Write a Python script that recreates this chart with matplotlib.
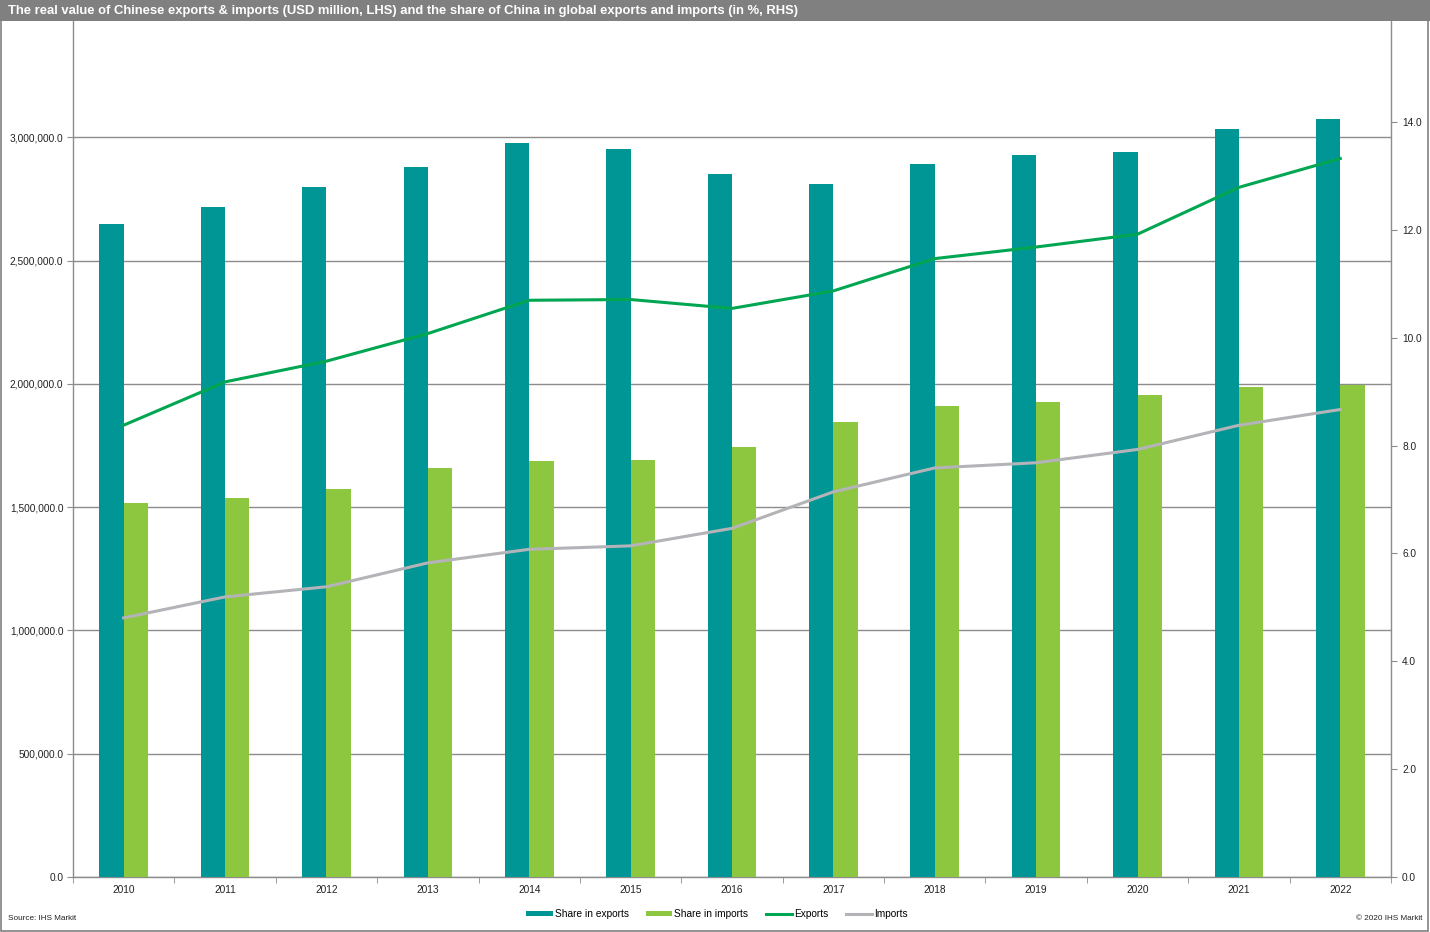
import matplotlib
matplotlib.use("Agg")
import matplotlib.pyplot as plt
from matplotlib.patches import Rectangle, Patch
from matplotlib.lines import Line2D
from matplotlib.ticker import FuncFormatter, FixedLocator
import numpy as np

plt.rcParams['font.family'] = ['Liberation Sans', 'DejaVu Sans']

years = ['2010', '2011', '2012', '2013', '2014', '2015', '2016',
         '2017', '2018', '2019', '2020', '2021', '2022']
share_exports = [12.11, 12.42, 12.79, 13.16, 13.61, 13.50, 13.03,
                 12.85, 13.22, 13.39, 13.44, 13.87, 14.05]
share_imports = [6.94, 7.02, 7.19, 7.59, 7.71, 7.74, 7.97,
                 8.44, 8.74, 8.80, 8.94, 9.08, 9.13]
exports = [1832400, 2008000, 2092000, 2204000, 2339000, 2342000, 2306000,
           2377000, 2508000, 2555000, 2607000, 2797000, 2914000]
imports = [1051000, 1136000, 1177000, 1274000, 1329000, 1343000, 1414000,
           1562000, 1659000, 1680000, 1734000, 1832000, 1896000]
left_ticks = [0, 500000, 1000000, 1500000, 2000000, 2500000, 3000000]
right_ticks = [0, 2, 4, 6, 8, 10, 12, 14]

title = ("The real value of Chinese exports & imports (USD million, LHS) and the share "
         "of China in global exports and imports (in %, RHS)")

C_TEAL = '#009696'
C_LIME = '#8DC63F'
C_EXP = '#00A651'
C_IMP = '#B4B4B8'
C_GRID = '#8C8C8C'
C_AX = '#8C8C8C'
FS = 7.3

W, H = 1430, 932
fig = plt.figure(figsize=(W / 100, H / 100), dpi=100)

rect = [73 / W, 1 - 877 / H, (1391 - 73) / W, (877 - 14) / H]
ax = fig.add_axes(rect)
x = np.arange(len(years))

# grid / left axis
ax.set_xlim(-0.5, len(years) - 0.5)
ax.set_ylim(0, 3500000)
ax.yaxis.set_major_locator(FixedLocator(left_ticks))
ax.yaxis.set_major_formatter(FuncFormatter(lambda v, p: f"{v:,.1f}"))
ax.grid(axis='y', color=C_GRID, linewidth=1.0)
ax.set_axisbelow(True)
ax.set_xticks(x)
ax.set_xticklabels(years)
ax.set_xticks(np.arange(-0.5, len(years) + 0.5, 1), minor=True)
ax.tick_params(axis='x', which='major', length=0, labelsize=FS, pad=6, colors='#222222')
ax.tick_params(axis='x', which='minor', length=4, color=C_AX, direction='out')
ax.tick_params(axis='y', length=4, color=C_AX, labelsize=FS, labelcolor='#222222', pad=3)
for s in ['top', 'right']:
    ax.spines[s].set_visible(False)
for s in ['left', 'bottom']:
    ax.spines[s].set_color(C_AX)
    ax.spines[s].set_linewidth(1.0)

# bars on right axis
axb = ax.twinx()
axb.set_ylim(0, 16)
axb.yaxis.set_major_locator(FixedLocator(right_ticks))
axb.yaxis.set_major_formatter(FuncFormatter(lambda v, p: f"{v:.1f}"))
axb.tick_params(axis='y', length=4, color=C_AX, labelsize=FS, labelcolor='#222222', pad=4)
bw = 0.24
axb.bar(x - bw / 2, share_exports, width=bw, color=C_TEAL, label='Share in exports')
axb.bar(x + bw / 2, share_imports, width=bw, color=C_LIME, label='Share in imports')
for s in ['top', 'left', 'bottom']:
    axb.spines[s].set_visible(False)
axb.spines['right'].set_color(C_AX)
axb.spines['right'].set_linewidth(1.0)

# lines on left scale, drawn on top
axl = fig.add_axes(rect, sharex=ax, sharey=ax)
axl.patch.set_visible(False)
axl.axis('off')
axl.plot(x, exports, color=C_EXP, linewidth=2.2, solid_joinstyle='miter')
axl.plot(x, imports, color=C_IMP, linewidth=2.2, solid_joinstyle='miter')

# title bar
fig.patches.append(Rectangle((0, 1 - 21 / H), 1, 21 / H, transform=fig.transFigure,
                             facecolor='#808080', edgecolor='none', zorder=10))
fig.text(8 / W, 1 - 11 / H, title, color='white', fontsize=9.4, fontweight='bold',
         va='center', ha='left', zorder=11)

# border
fig.patches.append(Rectangle((0.5 / W, 1.5 / H), (W - 3) / W, (H - 3) / H,
                             transform=fig.transFigure, facecolor='none',
                             edgecolor='#808080', linewidth=1.2, zorder=12))

# legend
handles = [Patch(facecolor=C_TEAL, edgecolor='none'),
           Patch(facecolor=C_LIME, edgecolor='none'),
           Line2D([], [], color=C_EXP, linewidth=2.2),
           Line2D([], [], color=C_IMP, linewidth=2.2)]
labels = ['Share in exports', 'Share in imports', 'Exports', 'Imports']
fig.legend(handles, labels, loc='center', bbox_to_anchor=(717 / W, 1 - 914 / H),
           ncol=4, frameon=False, fontsize=FS, handlelength=2.6, handleheight=0.5,
           handletextpad=0.2, columnspacing=1.7)

fig.text(8 / W, 1 - 918 / H, 'Source: IHS Markit', fontsize=5.9, va='center', ha='left',
         color='#222222')
fig.text(1422 / W, 1 - 918 / H, '\u00a9 2020 IHS Markit', fontsize=5.9, va='center',
         ha='right', color='#222222')

fig.savefig('out.png', dpi=100)
